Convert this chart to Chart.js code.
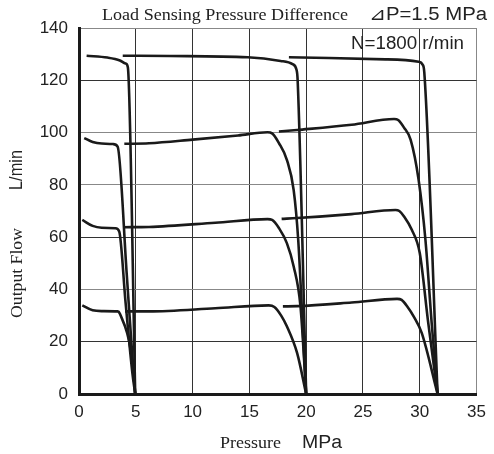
<!DOCTYPE html>
<html lang="en">
<head>
  <meta charset="UTF-8">
  <title>Output Flow vs Pressure</title>
  <script src="https://cdn.jsdelivr.net/npm/chart.js"></script>
  <style>
    html, body { margin: 0; padding: 0; background: #fff; }
    #wrap { width: 494px; height: 454px; }
  </style>
</head>
<body>
  <div id="wrap"><canvas id="flowChart" width="494" height="454"></canvas></div>
  <script>
    // Axis ticks
    const xTicks = [0, 5, 10, 15, 20, 25, 30, 35];
    const yTicks = [0, 20, 40, 60, 80, 100, 120, 140];

    // Curves, [pressure MPa, flow L/min]
    // 5 MPa set
    const left130 = [[0.67,129.4],[2.5,128.7],[3.6,127.6],[4.1,126.4],[4.3,125.0],[4.95,0]];
    const left100 = [[0.46,97.9],[1.2,96.4],[2.0,95.8],[3.0,95.6],[3.4,94.6],[4.2,46],[4.8,8],[4.95,0]];
    const left65  = [[0.29,66.6],[1.2,64.3],[2.0,63.6],[3.2,63.4],[3.54,62.2],[4.1,35],[4.7,8],[4.95,0]];
    const left33  = [[0.29,33.9],[1.2,32.0],[2.0,31.7],[3.4,31.6],[3.6,30.7],[4.72,11.8],[4.95,0]];
    // 20 MPa set
    const mid130 = [[3.85,129.4],[8,129.3],[14.85,128.8],[17.75,127.4],[18.8,126.2],[19.15,124],[19.25,120],[20.0,0]];
    const mid100 = [[3.99,95.7],[6.16,95.9],[10,97.3],[14,98.9],[16.6,100.1],[17.0,99.7],[17.6,96],[18.3,89.6],[18.9,78],[19.3,59],[19.75,20.8],[20.0,0]];
    const mid65  = [[3.91,63.8],[6.16,63.9],[12,65.5],[16.6,66.9],[17.0,66.6],[17.6,63.5],[18.3,57.7],[18.9,48.8],[19.5,33.5],[20.0,0]];
    const mid33  = [[4.06,31.6],[6.16,31.6],[12,32.8],[16.7,33.9],[17.2,33.3],[17.8,30],[18.3,25.9],[19.2,15.7],[20.0,0]];
    // 31.5 MPa set
    const right130 = [[18.48,128.8],[22,128.5],[27,128],[29.9,127.1],[30.25,126],[30.4,123],[31.57,0]];
    const right100 = [[17.6,100.4],[19.2,101],[24,103],[27.74,105.2],[28.1,104.8],[28.6,102],[29.2,97.2],[29.9,81.9],[30.5,59],[31.05,27.1],[31.57,0]];
    const right65  = [[17.84,67],[19.2,67.3],[24,68.8],[27.86,70.4],[28.2,70],[28.6,68],[29.3,62.8],[30.0,53.9],[30.75,27.1],[31.57,0]];
    const right33  = [[17.95,33.5],[19.2,33.6],[24,35],[28.0,36.4],[28.4,36],[28.9,33.5],[29.46,29.7],[30.18,23.3],[31.57,0]];

    const curves = [left130, left100, left65, left33, mid130, mid100, mid65, mid33, right130, right100, right65, right33];

    const SANS = '"Liberation Sans", Arial, sans-serif';
    const SERIF = '"Liberation Serif", "Times New Roman", serif';

    // text nudged to the width it has in the picture
    function fitText(ctx, text, x, y, w, font) {
      ctx.font = font;
      const m = ctx.measureText(text).width;
      ctx.save();
      ctx.translate(x, y);
      ctx.scale(w / m, 1);
      ctx.fillText(text, 0, 0);
      ctx.restore();
    }

    // draws the mixed serif/sans captions
    const captions = {
      id: 'captions',
      afterDraw(chart) {
        const ctx = chart.ctx;
        ctx.save();
        ctx.fillStyle = '#222';
        ctx.textBaseline = 'alphabetic';
        ctx.textAlign = 'left';

        fitText(ctx, 'Load Sensing Pressure Difference', 102, 20, 246, '17.5px ' + SERIF);
        fitText(ctx, '\u22BFP=1.5 MPa', 369, 20, 118, '18px ' + SANS);
        fitText(ctx, 'N=1800 r/min', 351, 49, 113, '18px ' + SANS);
        fitText(ctx, 'Pressure', 220, 448, 61, '17.5px ' + SERIF);
        fitText(ctx, 'MPa', 302, 448, 40, '18px ' + SANS);

        ctx.translate(22, 0);
        ctx.rotate(-Math.PI / 2);
        fitText(ctx, 'Output Flow', -318, 0, 90, '17.5px ' + SERIF);
        fitText(ctx, 'L/min', -190, 0, 40, '18px ' + SANS);
        ctx.restore();
      }
    };

    new Chart(document.getElementById('flowChart'), {
      type: 'scatter',
      data: {
        datasets: curves.map(c => ({
          data: c.map(p => ({ x: p[0], y: p[1] })),
          showLine: true,
          borderColor: '#1a1a1a',
          borderWidth: 2.6,
          pointRadius: 0,
          cubicInterpolationMode: 'monotone',
          fill: false
        }))
      },
      options: {
        responsive: false,
        animation: false,
        devicePixelRatio: 1,
        layout: { padding: { top: 28, right: 12, left: 0, bottom: 0 } },
        plugins: { legend: { display: false }, tooltip: { enabled: false } },
        scales: {
          x: {
            type: 'linear',
            min: 0, max: 35,
            afterFit(scale) { scale.height = 60; },
            afterBuildTicks(scale) { scale.ticks = xTicks.map(v => ({ value: v })); },
            ticks: { padding: 8, color: '#222', font: { family: SANS, size: 17 } },
            grid: {
              drawTicks: false,
              lineWidth: 1,
              color: ctx => ctx.tick && ctx.tick.value === 35 ? '#888' : '#333'
            },
            border: { display: true, width: 3, color: '#1a1a1a' }
          },
          y: {
            type: 'linear',
            min: 0, max: 140,
            afterFit(scale) { scale.width = 79; },
            afterBuildTicks(scale) { scale.ticks = yTicks.map(v => ({ value: v })); },
            ticks: { padding: 11, color: '#222', font: { family: SANS, size: 17 } },
            grid: {
              drawTicks: false,
              lineWidth: 1,
              color: ctx => {
                const v = ctx.tick ? ctx.tick.value : 0;
                return (v === 140 || v === 100 || v === 80 || v === 40) ? '#888' : '#333';
              }
            },
            border: { display: true, width: 3, color: '#1a1a1a' }
          }
        }
      },
      plugins: [captions]
    });
  </script>
</body>
</html>
